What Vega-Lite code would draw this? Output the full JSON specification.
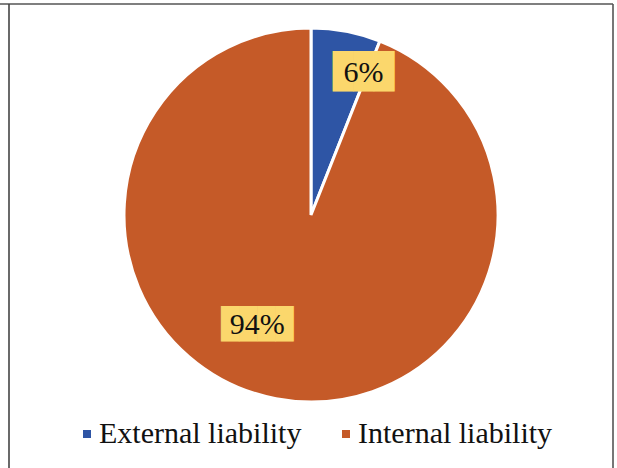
{
  "$schema": "https://vega.github.io/schema/vega-lite/v6.json",
  "width": 604,
  "height": 422,
  "autosize": {"type": "none"},
  "padding": {"left": 9, "top": 4, "right": 4, "bottom": 42},
  "background": "white",
  "config": {"view": {"stroke": null}},
  "data": {"values": [
    {"category": "External liability", "value": 6},
    {"category": "Internal liability", "value": 94}
  ]},
  "layer": [
    {
      "mark": {"type": "arc", "outerRadius": 187, "stroke": "white", "strokeWidth": 3},
      "encoding": {
        "theta": {"field": "value", "type": "quantitative", "stack": true, "scale": {"domain": [0, 100]}},
        "color": {
          "field": "category", "type": "nominal",
          "scale": {"domain": ["External liability", "Internal liability"], "range": ["#2E55A5", "#C55A28"]},
          "legend": {
            "orient": "none", "legendX": 63, "legendY": 415, "direction": "horizontal",
            "title": null, "symbolType": "square", "symbolSize": 64, "symbolStrokeWidth": 0,
            "labelFont": "Liberation Serif", "labelFontSize": 30, "labelColor": "#111111",
            "labelOffset": -3, "columnPadding": 29, "labelLimit": 400, "padding": 0
          }
        },
        "order": {"field": "category", "type": "nominal"}
      }
    },
    {
      "transform": [
        {"stack": "value", "groupby": [], "sort": [{"field": "category", "order": "ascending"}], "as": ["v0", "v1"]},
        {"calculate": "(datum.v0 + datum.v1) / 2", "as": "mid"},
        {"calculate": "datum.value + '%'", "as": "label"},
        {"filter": "datum.category === 'External liability'"}
      ],
      "layer": [
        {
          "mark": {"type": "text", "radius": 152, "dx": 24, "dy": 7, "font": "DejaVu Sans Mono", "fontSize": 34, "color": "#FBD76C", "baseline": "middle", "align": "center"},
          "encoding": {
            "theta": {"field": "mid", "type": "quantitative", "stack": null, "scale": {"domain": [0, 100]}},
            "text": {"value": "███"}
          }
        },
        {
          "mark": {"type": "text", "radius": 152, "dx": 24, "dy": 7, "font": "Liberation Serif", "fontSize": 30, "color": "#111111", "baseline": "middle", "align": "center"},
          "encoding": {
            "theta": {"field": "mid", "type": "quantitative", "stack": null, "scale": {"domain": [0, 100]}},
            "text": {"field": "label", "type": "nominal"}
          }
        }
      ]
    },
    {
      "transform": [
        {"stack": "value", "groupby": [], "sort": [{"field": "category", "order": "ascending"}], "as": ["v0", "v1"]},
        {"calculate": "(datum.v0 + datum.v1) / 2", "as": "mid"},
        {"calculate": "datum.value + '%'", "as": "label"},
        {"filter": "datum.category === 'Internal liability'"}
      ],
      "layer": [
        {
          "mark": {"type": "text", "radius": 122, "dx": -31, "dy": -10, "font": "DejaVu Sans Mono", "fontSize": 30, "color": "#FBD76C", "baseline": "middle", "align": "center"},
          "encoding": {
            "theta": {"field": "mid", "type": "quantitative", "stack": null, "scale": {"domain": [0, 100]}},
            "text": {"value": "████"}
          }
        },
        {
          "mark": {"type": "text", "radius": 122, "dx": -31, "dy": -10, "font": "Liberation Serif", "fontSize": 30, "color": "#111111", "baseline": "middle", "align": "center"},
          "encoding": {
            "theta": {"field": "mid", "type": "quantitative", "stack": null, "scale": {"domain": [0, 100]}},
            "text": {"field": "label", "type": "nominal"}
          }
        }
      ]
    },
    {
      "data": {"values": [{}]},
      "mark": {"type": "rule", "color": "#555555", "strokeWidth": 1.6},
      "encoding": {
        "x": {"datum": -0.02, "type": "quantitative", "scale": {"domain": [0, 1], "nice": false}, "axis": null},
        "x2": {"datum": 1},
        "y": {"datum": 1, "type": "quantitative", "scale": {"domain": [0, 1], "nice": false}, "axis": null}
      }
    },
    {
      "data": {"values": [{}]},
      "mark": {"type": "rule", "color": "#444444", "strokeWidth": 1.6},
      "encoding": {
        "x": {"datum": 0, "type": "quantitative"},
        "y": {"datum": 1, "type": "quantitative"},
        "y2": {"datum": -0.2}
      }
    },
    {
      "data": {"values": [{}]},
      "mark": {"type": "rule", "color": "#555555", "strokeWidth": 1.6},
      "encoding": {
        "x": {"datum": 1, "type": "quantitative"},
        "y": {"datum": 1, "type": "quantitative"},
        "y2": {"datum": -0.2}
      }
    }
  ]
}
